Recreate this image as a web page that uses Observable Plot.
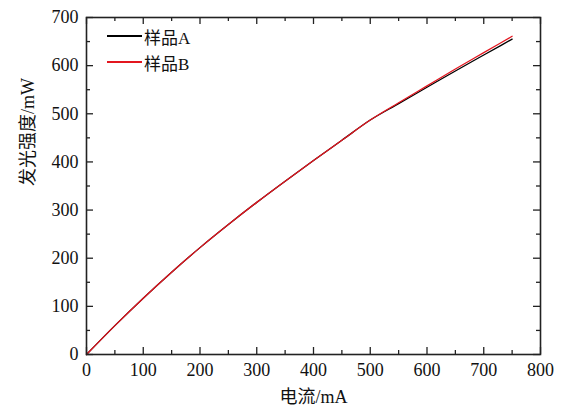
<!DOCTYPE html>
<html><head><meta charset="utf-8">
<script src="https://cdn.jsdelivr.net/npm/d3@7"></script>
<script src="https://cdn.jsdelivr.net/npm/@observablehq/plot@0.6"></script>
<style>
body{margin:0;background:#fff}
#wrap{position:relative;width:571px;height:414px}
.lg{position:absolute;left:107px;height:20px;display:flex;align-items:center;font:17px "Liberation Serif","Noto Sans CJK SC",serif;color:#111;white-space:nowrap}
.lg span.sw{display:inline-block;width:35px;height:1.3px;margin-right:2px}
</style>
</head><body>
<div id="wrap"></div>
<script>
const current = [0,50,100,150,200,250,300,350,400,450,500,550,600,650,700,750];
const sampleA = [0,60,117,171,222,270,316,360,403,445,487,521,555,589,622,655];
const sampleB = [0,60,117,171,222,270,316,360,403,445,487,523,558,593,627,661];
const seriesNames = ["样品A","样品B"];
const seriesColors = ["#000000","#e3161f"];
const xMajor = [0,100,200,300,400,500,600,700,800];
const xMinor = [50,150,250,350,450,550,650,750];
const yMajor = [0,100,200,300,400,500,600,700];
const yMinor = [50,150,250,350,450,550,650];
const xTitle = "电流/mA";
const yTitle = "发光强度/mW";

const rows = [sampleA, sampleB].flatMap((vals, k) => current.map((c, i) => ({x: c, y: vals[i], name: seriesNames[k]})));

const W = 571, H = 414, mt = 17, mb = 60, ml = 86, mr = 31;
const fw = W - ml - mr, fh = H - mt - mb;
const font = '"Liberation Serif","Noto Sans CJK SC",serif';
const tc = "#222";

const chart = Plot.plot({
  width: W, height: H, marginTop: mt, marginBottom: mb, marginLeft: ml, marginRight: mr,
  style: {fontFamily: font, fontSize: "18px", color: "#111", background: "#fff"},
  x: {domain: [0, 800]},
  y: {domain: [0, 700]},
  color: {domain: seriesNames, range: seriesColors},
  marks: [
    Plot.line(rows, {x: "x", y: "y", stroke: "name", strokeWidth: 1.3, curve: "monotone-x"}),
    Plot.ruleX(xMajor, {x: d => d, insetTop: fh - 7, stroke: tc, strokeWidth: 1.3}),
    Plot.ruleX(xMinor, {x: d => d, insetTop: fh - 4, stroke: tc, strokeWidth: 1.3}),
    Plot.ruleX(xMajor, {x: d => d, insetBottom: fh - 7, stroke: tc, strokeWidth: 1.3}),
    Plot.ruleX(xMinor, {x: d => d, insetBottom: fh - 4, stroke: tc, strokeWidth: 1.3}),
    Plot.ruleY(yMajor, {y: d => d, insetRight: fw - 7, stroke: tc, strokeWidth: 1.3}),
    Plot.ruleY(yMinor, {y: d => d, insetRight: fw - 4, stroke: tc, strokeWidth: 1.3}),
    Plot.ruleY(yMajor, {y: d => d, insetLeft: fw - 7, stroke: tc, strokeWidth: 1.3}),
    Plot.ruleY(yMinor, {y: d => d, insetLeft: fw - 4, stroke: tc, strokeWidth: 1.3}),
    Plot.frame({stroke: tc, strokeWidth: 1.6}),
    Plot.axisX(xMajor, {tickSize: 0, tickPadding: 9, label: null, fontSize: 18}),
    Plot.axisY(yMajor, {tickSize: 0, tickPadding: 8, label: null, fontSize: 18}),
    Plot.text([xTitle], {text: d => d, frameAnchor: "bottom", dy: 48, fontSize: 18, fill: "#111"}),
    Plot.text([yTitle], {text: d => d, frameAnchor: "left", dx: -58, rotate: -90, fontSize: 18, fill: "#111"})
  ]
});
const wrap = document.getElementById("wrap");
wrap.appendChild(chart);
const tops = [26, 52];
seriesNames.forEach((n, i) => {
  const d = document.createElement("div");
  d.className = "lg";
  d.style.top = tops[i] + "px";
  d.innerHTML = `<span class="sw" style="background:${seriesColors[i]}"></span>${n}`;
  wrap.appendChild(d);
});
</script>
</body></html>
